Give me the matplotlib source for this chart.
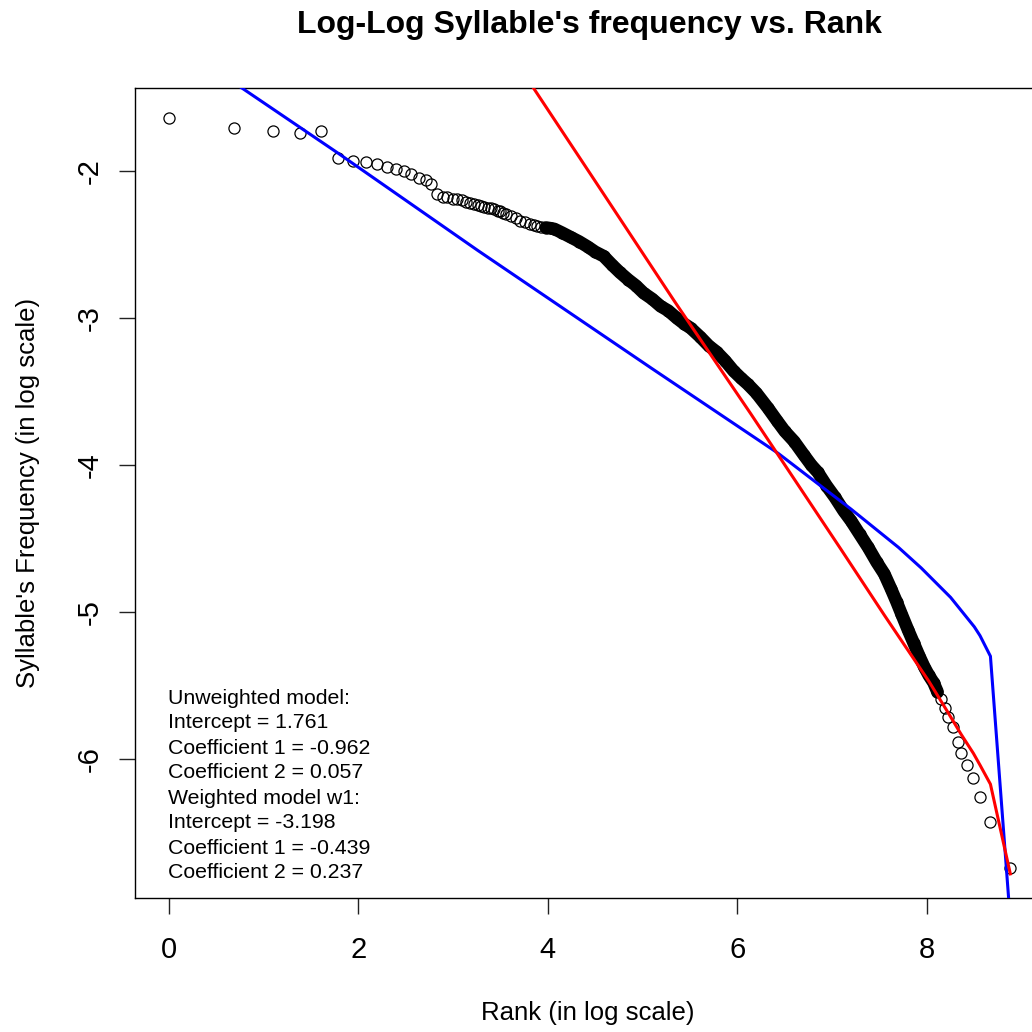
import numpy as np
import matplotlib
matplotlib.use("Agg")
import matplotlib.pyplot as plt

plt.rcParams['font.family'] = ['Liberation Sans', 'DejaVu Sans']

# ---- data (x = log rank, y = log frequency) ----
log_rank = [0.00, 0.69, 1.10, 1.39, 1.61, 1.79, 1.95, 2.08, 2.20, 2.30, 2.40, 2.48,
            2.56, 2.64, 2.71, 2.77, 2.83, 2.89,
            2.94, 3.00, 3.04, 3.09, 3.14, 3.18, 3.22, 3.26, 3.30, 3.33, 3.37, 3.40,
            3.43, 3.47, 3.50, 3.53, 3.56, 3.61, 3.66, 3.71, 3.76, 3.81, 3.85, 3.89,
            3.93, 3.98, 4.03, 4.07,
            4.15, 4.24, 4.33, 4.42, 4.50, 4.59, 4.68, 4.76, 4.85, 4.93, 5.01, 5.10,
            5.19, 5.27, 5.36, 5.44, 5.51, 5.61, 5.70, 5.78, 5.87, 5.96, 6.04, 6.11,
            6.20, 6.32, 6.42, 6.50, 6.60, 6.70, 6.78, 6.85, 6.94, 7.03, 7.12, 7.20,
            7.29, 7.38, 7.47, 7.55, 7.62, 7.68, 7.73, 7.80, 7.86, 7.92, 7.97, 8.02,
            8.07, 8.11, 8.15, 8.19, 8.22, 8.27, 8.33, 8.36, 8.42, 8.49, 8.56, 8.67,
            8.88]
log_freq = [-1.64, -1.71, -1.73, -1.74, -1.73, -1.91, -1.93, -1.94, -1.955, -1.97, -1.99, -2.00,
            -2.02, -2.05, -2.06, -2.09, -2.16, -2.18,
            -2.18, -2.19, -2.19, -2.20, -2.21, -2.22, -2.225, -2.23, -2.24, -2.245, -2.25, -2.255,
            -2.26, -2.27, -2.275, -2.285, -2.29, -2.305, -2.32, -2.34, -2.35, -2.36, -2.37, -2.375,
            -2.38, -2.385, -2.39, -2.395,
            -2.42, -2.45, -2.48, -2.515, -2.55, -2.58, -2.64, -2.69, -2.74, -2.78, -2.83, -2.87,
            -2.92, -2.95, -3.00, -3.04, -3.07, -3.13, -3.19, -3.23, -3.29, -3.36, -3.41, -3.45,
            -3.51, -3.61, -3.70, -3.77, -3.84, -3.93, -4.00, -4.05, -4.14, -4.22, -4.31, -4.38,
            -4.47, -4.56, -4.66, -4.74, -4.84, -4.93, -5.01, -5.12, -5.21, -5.30, -5.37, -5.43,
            -5.48, -5.54, -5.59, -5.65, -5.71, -5.78, -5.88, -5.96, -6.04, -6.13, -6.26, -6.43,
            -6.74]

# weighted model w1 fit (blue)
blue_x = [0.69, 1.78, 3.26, 5.09, 6.43, 7.20, 7.70, 7.94, 8.25, 8.50, 8.56, 8.67, 8.88]
blue_y = [-1.40, -1.876, -2.54, -3.34, -3.92, -4.30, -4.56, -4.70, -4.90, -5.10, -5.16, -5.30, -7.10]
# unweighted model fit (red)
red_x = [3.74, 4.49, 5.33, 6.14, 7.09, 7.55, 8.02, 8.22, 8.36, 8.49, 8.56, 8.67, 8.88]
red_y = [-1.33, -2.06, -2.88, -3.65, -4.57, -5.02, -5.47, -5.68, -5.83, -5.96, -6.04, -6.17, -6.78]

x_ticks = [0, 2, 4, 6, 8]
y_ticks = [-6, -5, -4, -3, -2]

info_lines = ["Unweighted model:", "Intercept = 1.761", "Coefficient 1 = -0.962",
              "Coefficient 2 = 0.057", "Weighted model w1:", "Intercept = -3.198",
              "Coefficient 1 = -0.439", "Coefficient 2 = 0.237"]

title = "Log-Log Syllable's frequency vs. Rank"
xlabel = "Rank (in log scale)"
ylabel = "Syllable's Frequency (in log scale)"

# ---- figure ----
W = 1032
fig = plt.figure(figsize=(W / 100, W / 100), dpi=100)
fig.patch.set_facecolor('white')
ax = fig.add_axes([135 / W, (W - 898) / W, (1044 - 135) / W, 810 / W])

xa = np.array(log_rank)
ya = np.array(log_freq)

# dense overlapping band of points
band = (xa >= 3.98) & (xa <= 8.11)
ax.plot(xa[band], ya[band], color='black', lw=9.2, solid_capstyle='round',
        solid_joinstyle='round', zorder=2)
ax.plot(xa, ya, linestyle='none', marker='o', ms=8, mfc='none', mec='black',
        mew=0.9, zorder=3)

ax.plot(blue_x, blue_y, color='#0000ff', lw=2.2, zorder=4)
ax.plot(red_x, red_y, color='#ff0000', lw=2.2, zorder=5)

# R-style 4% axis expansion
xpad = 0.04 * (xa.max() - xa.min())
ypad = 0.04 * (ya.max() - ya.min())
ax.set_xlim(xa.min() - xpad, xa.max() + xpad)
ax.set_ylim(ya.min() - ypad, ya.max() + ypad)

ax.set_xticks(x_ticks)
ax.set_yticks(y_ticks)
ax.set_xticklabels([str(t) for t in x_ticks])
ax.set_yticklabels([str(t) for t in y_ticks])
ax.tick_params(axis='both', direction='out', length=11.5, width=1.0, color='#222222',
               labelsize=21)
ax.tick_params(axis='x', pad=15.9)
ax.tick_params(axis='y', pad=11, labelrotation=90)
for lbl in ax.get_yticklabels():
    lbl.set_va('center')

for s in ax.spines.values():
    s.set_linewidth(1.0)
    s.set_color('black')

ax.set_xlabel(xlabel, fontsize=18.5)
ax.xaxis.set_label_coords((588 - 135) / 909, (898 - 1013) / 810)
ax.xaxis.label.set_va('center')
ax.set_ylabel(ylabel, fontsize=18.5)
ax.yaxis.set_label_coords((28 - 135) / 909, 0.5)
ax.yaxis.label.set_va('center')

ax.set_title(title, fontsize=23, fontweight='bold', y=(898 - 25) / 810, va='center', pad=0)

for i, line in enumerate(info_lines):
    ax.text((168 - 135) / 909, (898 - (698 + 25 * i)) / 810, line, transform=ax.transAxes,
            fontsize=15.3, ha='left', va='center')

fig.savefig("out.png", dpi=100)
